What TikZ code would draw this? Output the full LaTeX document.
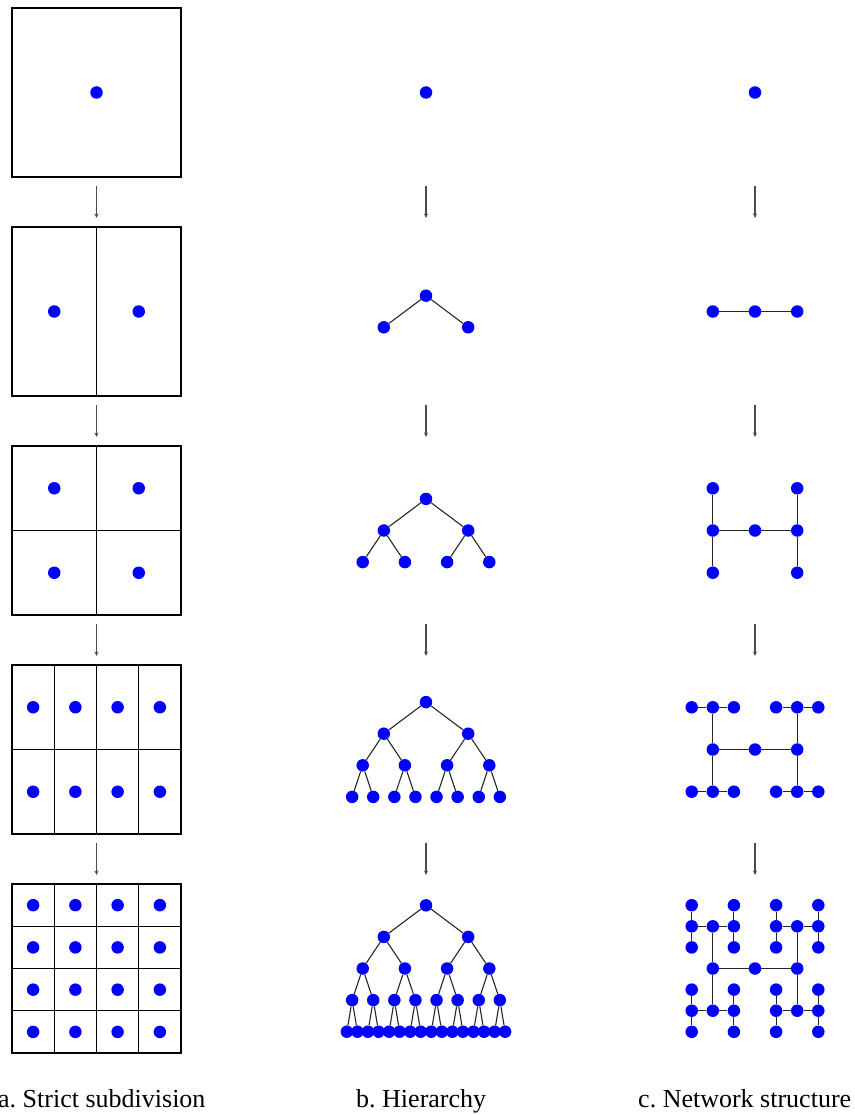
\documentclass[tikz,border=0pt]{standalone}
\usepackage{fontspec}
\setmainfont{Liberation Serif}
\usetikzlibrary{arrows.meta}
\frenchspacing
\begin{document}
\begin{tikzpicture}[x=1pt,y=-1pt,
  bluedot/.style={circle,fill=blue,draw=none,inner sep=0pt,minimum size=12.5pt},
  gridline/.style={line width=1.2pt,black},
  treelink/.style={line width=1.1pt,black!85},
  flowarrow/.style={line width=1.2pt,black!70,-{Stealth[length=4.5pt,width=4pt]}},
  captext/.style={anchor=base west,font=\fontsize{26}{30}\selectfont,inner sep=0pt}]
\useasboundingbox (0,0) rectangle (854,1115);

% ---------- column a: strict subdivision ----------
\foreach \r/\nc/\nr in {1/1/1,2/2/1,3/2/2,4/4/2,5/4/4}{
  \pgfmathsetmacro\T{8+219*(\r-1)}
  \draw[gridline] (12,\T) rectangle ({181},{\T+169});
  \foreach \i in {1,...,\nc}{
    \ifnum\i<\nc
      \draw[gridline] ({12+169*\i/\nc},\T) -- ({12+169*\i/\nc},{\T+169});
    \fi
  }
  \foreach \j in {1,...,\nr}{
    \ifnum\j<\nr
      \draw[gridline] (12,{\T+169*\j/\nr}) -- (181,{\T+169*\j/\nr});
    \fi
  }
  \foreach \i in {1,...,\nc}{
    \foreach \j in {1,...,\nr}{
      \node[bluedot] (a\r-\i-\j) at ({12+169*(\i-0.5)/\nc},{\T+169*(\j-0.5)/\nr}) {};
    }
  }
}

% ---------- column b: hierarchy ----------
\foreach \r in {1,...,5}{
  \pgfmathsetmacro\Yc{92.5+219*(\r-1)}
  \pgfmathtruncatemacro\lmax{\r-1}
  \foreach \l in {0,...,\lmax}{
    \pgfmathtruncatemacro\n{2^\l}
    \pgfmathtruncatemacro\nmax{\n-1}
    \pgfmathsetmacro\yl{\Yc+(\l-\lmax/2)*31.6}
    \foreach \i in {0,...,\nmax}{
      \node[bluedot] (b\r-\l-\i) at ({426+(\i-(\n-1)/2)*168.8/\n},\yl) {};
      \ifnum\l>0
        \pgfmathtruncatemacro\lp{\l-1}
        \pgfmathtruncatemacro\p{floor(\i/2)}
        \draw[treelink] (b\r-\lp-\p) -- (b\r-\l-\i);
      \fi
    }
  }
}

% ---------- column c: network structure ----------
\foreach \r in {1,...,5}{
  \pgfmathsetmacro\Y{92.5+219*(\r-1)}
  \node[bluedot] (c\r-0) at (755,\Y) {};
  \ifnum\r>1
    \node[bluedot] (c\r-L) at (712.8,\Y) {};
    \node[bluedot] (c\r-R) at (797.2,\Y) {};
    \draw[treelink] (c\r-L) -- (c\r-0) -- (c\r-R);
  \fi
  \ifnum\r>2
    \foreach \sx/\nm in {-1/L,1/R}{
      \foreach \sy/\mm in {-1/T,1/B}{
        \node[bluedot] (c\r-\nm\mm) at ({755+(\sx)*42.2},{\Y+(\sy)*42.2}) {};
        \draw[treelink] (c\r-\nm) -- (c\r-\nm\mm);
        \ifnum\r>3
          \foreach \tx/\km in {-1/l,1/r}{
            \node[bluedot] (c\r-\nm\mm\km) at ({755+(\sx)*42.2+(\tx)*21.1},{\Y+(\sy)*42.2}) {};
            \draw[treelink] (c\r-\nm\mm) -- (c\r-\nm\mm\km);
            \ifnum\r>4
              \foreach \ty/\jm in {-1/t,1/b}{
                \node[bluedot] (c\r-\nm\mm\km\jm) at ({755+(\sx)*42.2+(\tx)*21.1},{\Y+(\sy)*42.2+(\ty)*21.1}) {};
                \draw[treelink] (c\r-\nm\mm\km) -- (c\r-\nm\mm\km\jm);
              }
            \fi
          }
        \fi
      }
    }
  \fi
}

% ---------- arrows between stages ----------
\foreach \k in {1,...,4}{
  \pgfmathsetmacro\ya{8+219*(\k-1)+169+9}
  \pgfmathsetmacro\yb{8+219*\k-9}
  \foreach \x/\c in {96.5/a,426/b,755/c}{
    \coordinate (\c top\k) at (\x,\ya);
    \coordinate (\c bot\k) at (\x,\yb);
    \draw[flowarrow] (\c top\k) -- (\c bot\k);
  }
}

% ---------- captions ----------
\node[captext] (capa) at (-2,1107) {a. Strict subdivision};
\node[captext] (capb) at (356,1107) {b. Hierarchy};
\node[captext] (capc) at (638,1107) {c. Network structure};
\end{tikzpicture}
\end{document}
